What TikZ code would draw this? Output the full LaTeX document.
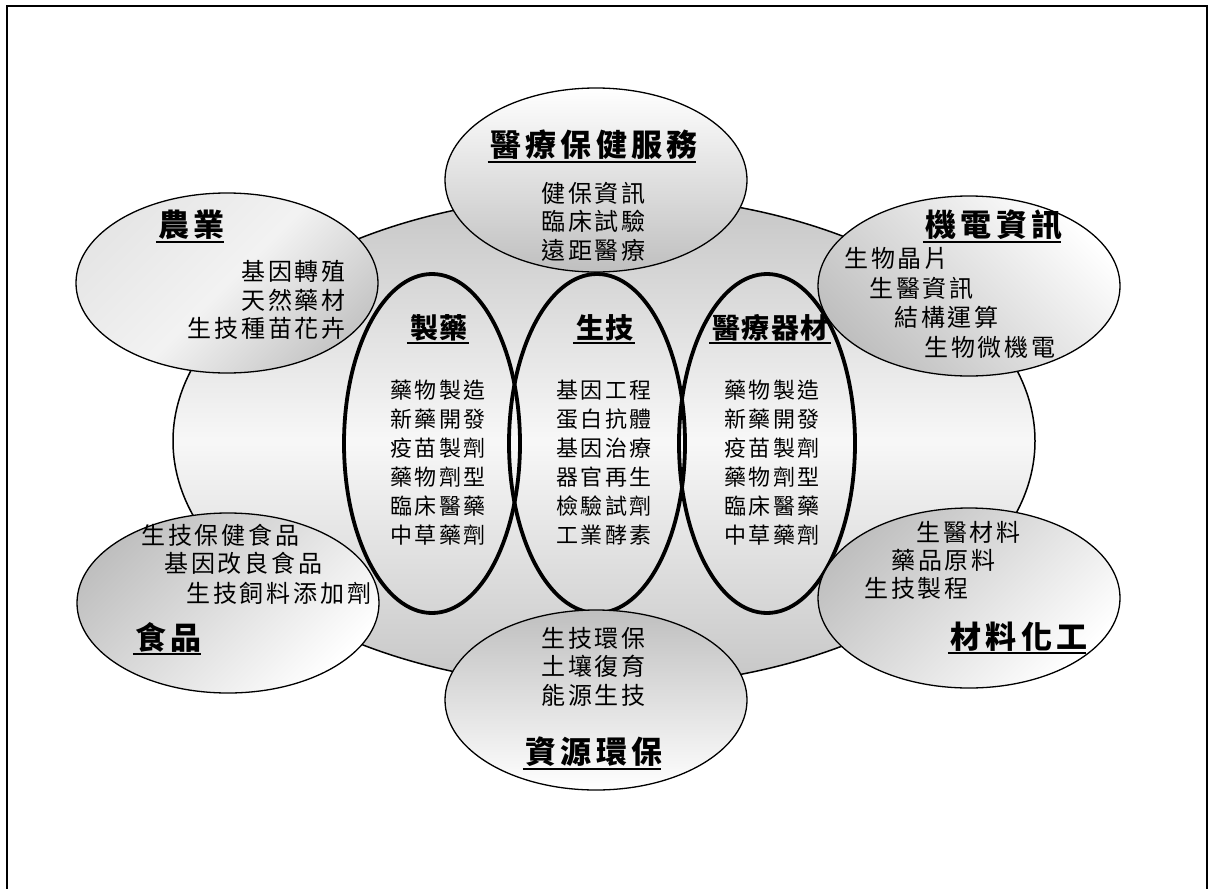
\documentclass[tikz,border=0pt]{standalone}
\usepackage{fontspec}
\usetikzlibrary{shapes.geometric}
\newfontfamily\fto[LetterSpace=13]{Noto Sans CJK TC}
\newfontfamily\fti[LetterSpace=5]{Noto Sans CJK TC}
\newfontfamily\fbo[LetterSpace=12]{Noto Sans CJK TC}
\newfontfamily\fbi[LetterSpace=11]{Noto Sans CJK TC}
\tikzset{
  bigell/.style={ellipse, draw=black, line width=1.5pt, inner sep=0pt,
    minimum width=862pt, minimum height=492pt,
    top color=gray!45, bottom color=gray!45, middle color=white!97!black},
  innell/.style={ellipse, draw=black, line width=3.8pt, inner sep=0pt,
    minimum width=176pt, minimum height=339pt},
  outell/.style={ellipse, draw=black, line width=1.3pt, inner sep=0pt,
    minimum width=302pt, minimum height=180pt},
  ttlO/.style={inner sep=0pt, font=\fto\bfseries\fontsize{31}{34}\selectfont},
  ttlI/.style={inner sep=0pt, font=\fti\bfseries\fontsize{28}{30}\selectfont},
  bodyO/.style={inner sep=0pt, font=\fbo\fontsize{24}{28.5}\selectfont},
  bodyI/.style={inner sep=0pt, align=center, font=\fbi\fontsize{22}{29}\selectfont},
  uline/.style={line width=2pt},
  frame/.style={line width=2pt}
}
\begin{document}
\begin{tikzpicture}[x=1pt,y=-1pt]
\useasboundingbox (0,0) rectangle (1208,889);
\draw[frame] (7,895) -- (7,6) -- (1206.5,6) -- (1206.5,895);

% big ellipse
\node[bigell] (big) at (604,441) {};
% inner ellipses
\node[innell] (e1) at (432,443.5) {};
\node[innell] (e2) at (597,443.5) {};
\node[innell] (e3) at (767,443.5) {};
% outer ellipses
\node[outell, minimum height=184pt, top color=white, bottom color=gray!50] (o1) at (596,180) {};
\node[outell, top color=gray!20, bottom color=gray!45, middle color=white!95!black, shading angle=45] (o2) at (227,283) {};
\node[outell, top color=white, bottom color=gray!50, shading angle=-45] (o3) at (969,286) {};
\node[outell, top color=gray!50, bottom color=white, shading angle=45] (o4) at (228,603) {};
\node[outell, top color=gray!50, bottom color=white, shading angle=45] (o5) at (969,598) {};
\node[outell, top color=gray!50, bottom color=white] (o6) at (596,700) {};

% titles
\node[ttlO] (t1) at (592,145) {醫療保健服務\kern-4pt};
\node[ttlO] (t2) at (190,225) {農業\kern-4pt};
\node[ttlO] (t3) at (992,225) {機電資訊\kern-4pt};
\node[ttlO] (t4) at (167,637) {食品\kern-4pt};
\node[ttlO] (t5) at (1017,637) {材料化工\kern-4pt};
\node[ttlO] (t6) at (592,752) {資源環保\kern-4pt};
\node[ttlI] (i1) at (438,328) {製藥\kern-1.4pt};
\node[ttlI] (i2) at (604,328) {生技\kern-1.4pt};
\node[ttlI] (i3) at (770,328) {醫療器材\kern-1.4pt};
\foreach \n in {t1,t2,t3,t4,t5,t6,i1,i2,i3}
  \draw[uline] ([xshift=-3pt,yshift=-1.5pt]\n.south west) -- ([xshift=3pt,yshift=-1.5pt]\n.south east);

% bodies
\node[bodyO, align=center] (b1) at (593.5,221.5) {健保資訊\\臨床試驗\\遠距醫療};
\node[bodyO, align=right, anchor=east] (b2) at (346,300) {基因轉殖\\天然藥材\\生技種苗花卉};
\node[bodyO, anchor=west] (b3a) at (844,258) {生物晶片};
\node[bodyO, anchor=west] (b3b) at (869,288) {生醫資訊};
\node[bodyO, anchor=west] (b3c) at (894,317) {結構運算};
\node[bodyO, anchor=west] (b3d) at (924,347) {生物微機電};
\node[bodyO, anchor=west] (b4a) at (141,535) {生技保健食品};
\node[bodyO, anchor=west] (b4b) at (164,563) {基因改良食品};
\node[bodyO, anchor=west] (b4c) at (186,593) {生技飼料添加劑};
\node[bodyO, anchor=west] (b5a) at (916,532) {生醫材料};
\node[bodyO, anchor=west] (b5b) at (891,560) {藥品原料};
\node[bodyO, anchor=west] (b5c) at (864,588) {生技製程};
\node[bodyO, align=center] (b6) at (593.5,666.5) {生技環保\\土壤復育\\能源生技};
\node[bodyI] (c1) at (438.2,462.5) {藥物製造\\新藥開發\\疫苗製劑\\藥物劑型\\臨床醫藥\\中草藥劑};
\node[bodyI] (c2) at (604.2,462.5) {基因工程\\蛋白抗體\\基因治療\\器官再生\\檢驗試劑\\工業酵素};
\node[bodyI] (c3) at (772.2,462.5) {藥物製造\\新藥開發\\疫苗製劑\\藥物劑型\\臨床醫藥\\中草藥劑};
\end{tikzpicture}
\end{document}
